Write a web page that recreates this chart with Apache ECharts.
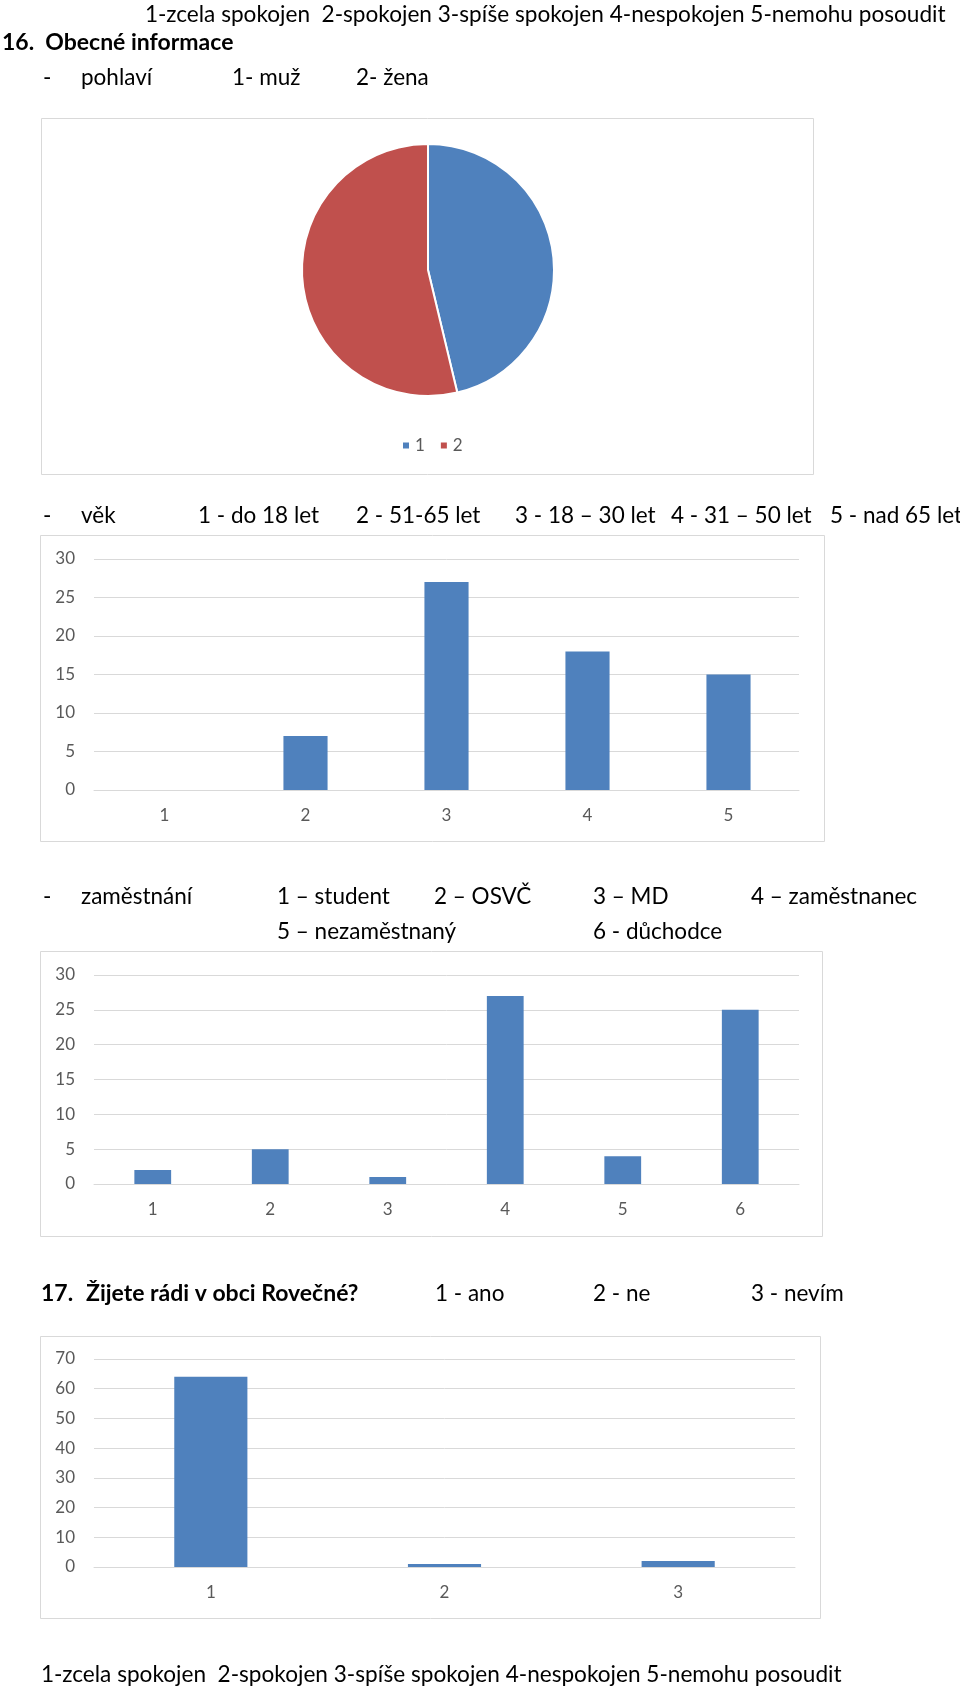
<!DOCTYPE html>
<html>
<head>
<meta charset="utf-8">
<script src="https://cdn.jsdelivr.net/npm/echarts@6/dist/echarts.min.js"></script>
<style>
html,body{margin:0;padding:0;background:#fff;}
#c{width:960px;height:1689px;}
</style>
</head>
<body>
<div id="c"></div>
<script>
// ---- data ----
const genderCats = ['1', '2'];
const genderValues = [31, 36];

const ageCats = ['1', '2', '3', '4', '5'];
const ageValues = [0, 7, 27, 18, 15];
const ageTicks = [0, 5, 10, 15, 20, 25, 30];

const jobCats = ['1', '2', '3', '4', '5', '6'];
const jobValues = [2, 5, 1, 27, 4, 25];
const jobTicks = [0, 5, 10, 15, 20, 25, 30];

const likeCats = ['1', '2', '3'];
const likeValues = [64, 1, 2];
const likeTicks = [0, 10, 20, 30, 40, 50, 60, 70];

// ---- style ----
const FONT = 'Lato';
const BLUE = '#4F81BD';
const RED = '#C0504D';
const GRIDC = '#D9D9D9';
const LBL = '#595959';
const TXT = '#000';

function t(x, y, s, opts) {
  opts = opts || {};
  return {
    type: 'text', x: x, y: y, silent: true,
    style: {
      text: s, fill: TXT, font: (opts.bold ? 'bold ' : '') + (opts.size || 22.5) + 'px ' + FONT,
      textAlign: opts.align || 'left', textVerticalAlign: 'middle'
    }
  };
}
function box(x, y, w, h) {
  return { type: 'rect', silent: true, shape: { x: x + 0.5, y: y + 0.5, width: w, height: h },
    style: { fill: 'none', stroke: GRIDC, lineWidth: 1 } };
}

const graphics = [
  t(145, 15, '1-zcela spokojen  2-spokojen 3-spíše spokojen 4-nespokojen 5-nemohu posoudit', { size: 22.6 }),
  t(2, 43, '16.  Obecné informace', { bold: true, size: 23 }),
  t(43, 78, '-'), t(81, 78, 'pohlaví'), t(232, 78, '1- muž'), t(356, 78, '2- žena'),
  box(41, 118, 772, 356),
  t(43, 516, '-'), t(81, 516, 'věk'), t(198, 516, '1 - do 18 let'), t(356, 516, '2 - 51-65 let'),
  t(515, 516, '3 - 18 – 30 let'), t(671, 516, '4 - 31 – 50 let'), t(830, 516, '5 - nad 65 let'),
  box(40, 535, 784, 306),
  t(43, 897, '-'), t(81, 897, 'zaměstnání'), t(277, 897, '1 – student'), t(434, 897, '2 – OSVČ'),
  t(593, 897, '3 – MD'), t(751, 897, '4 – zaměstnanec'),
  t(277, 932, '5 – nezaměstnaný'), t(593, 932, '6 - důchodce'),
  box(40, 951, 782, 285),
  t(41, 1294, '17.', { bold: true, size: 23 }), t(86, 1294, 'Žijete rádi v obci Rovečné?', { bold: true, size: 23 }),
  t(435, 1294, '1 - ano'), t(593, 1294, '2 - ne'), t(751, 1294, '3 - nevím'),
  box(40, 1336, 780, 282),
  t(41, 1675, '1-zcela spokojen  2-spokojen 3-spíše spokojen 4-nespokojen 5-nemohu posoudit', { size: 22.6 })
];

function xAx(idx, cats) {
  return {
    type: 'category', gridIndex: idx, data: cats,
    axisLine: { show: true, lineStyle: { color: GRIDC, width: 1 } },
    axisTick: { show: false },
    axisLabel: { color: LBL, fontFamily: FONT, fontSize: 17, margin: 17 }
  };
}
function yAx(idx, ticks) {
  return {
    type: 'value', gridIndex: idx, min: ticks[0], max: ticks[ticks.length - 1],
    interval: ticks[1] - ticks[0],
    axisLine: { show: false }, axisTick: { show: false },
    splitLine: { lineStyle: { color: GRIDC, width: 1 } },
    axisLabel: { color: LBL, fontFamily: FONT, fontSize: 17, margin: 19 }
  };
}
function bars(idx, vals) {
  return {
    type: 'bar', xAxisIndex: idx, yAxisIndex: idx, data: vals,
    barCategoryGap: '68.7%', itemStyle: { color: BLUE }, silent: true
  };
}

const chart = echarts.init(document.getElementById('c'), null, { renderer: 'canvas' });
chart.setOption({
  animation: false,
  backgroundColor: '#fff',
  textStyle: { fontFamily: FONT },
  graphic: graphics,
  legend: {
    data: genderCats, left: 396, top: 432, itemWidth: 8, itemHeight: 8, itemGap: 14,
    icon: 'rect', textStyle: { color: LBL, fontFamily: FONT, fontSize: 17 }
  },
  grid: [
    { left: 94, right: 161, top: 559, height: 231 },
    { left: 94, right: 161, top: 975, height: 209 },
    { left: 94, right: 165, top: 1359, height: 208 }
  ],
  xAxis: [xAx(0, ageCats), xAx(1, jobCats), xAx(2, likeCats)],
  yAxis: [yAx(0, ageTicks), yAx(1, jobTicks), yAx(2, likeTicks)],
  series: [
    {
      type: 'pie', center: [428, 270], radius: 126, startAngle: 90, clockwise: true,
      label: { show: false }, labelLine: { show: false }, silent: true,
      itemStyle: { borderColor: '#fff', borderWidth: 2 },
      color: [BLUE, RED],
      data: genderCats.map((c, i) => ({ name: c, value: genderValues[i] }))
    },
    bars(0, ageValues),
    bars(1, jobValues),
    bars(2, likeValues)
  ]
});
</script>
</body>
</html>
